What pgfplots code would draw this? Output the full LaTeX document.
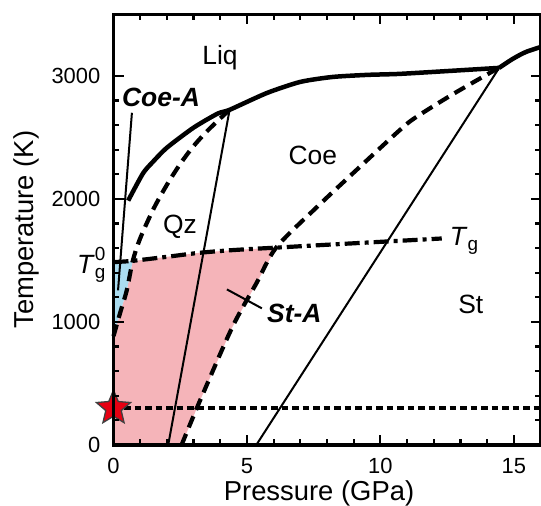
\documentclass[border=0pt]{standalone}
\usepackage{fontspec}
\setmainfont{Liberation Sans}
\usepackage{pgfplots}
\pgfplotsset{compat=1.18}
\usetikzlibrary{calc}
\definecolor{pinkfill}{RGB}{245,180,185}
\definecolor{bluefill}{RGB}{170,220,240}
\definecolor{starred}{RGB}{230,0,18}
\pgfdeclareplotmark{fstar}{%
  \pgfpathmoveto{\pgfpointpolar{90}{\pgfplotmarksize}}%
  \pgfpathlineto{\pgfpointpolar{126}{0.45\pgfplotmarksize}}%
  \pgfpathlineto{\pgfpointpolar{162}{\pgfplotmarksize}}%
  \pgfpathlineto{\pgfpointpolar{198}{0.45\pgfplotmarksize}}%
  \pgfpathlineto{\pgfpointpolar{234}{\pgfplotmarksize}}%
  \pgfpathlineto{\pgfpointpolar{270}{0.45\pgfplotmarksize}}%
  \pgfpathlineto{\pgfpointpolar{306}{\pgfplotmarksize}}%
  \pgfpathlineto{\pgfpointpolar{342}{0.45\pgfplotmarksize}}%
  \pgfpathlineto{\pgfpointpolar{18}{\pgfplotmarksize}}%
  \pgfpathlineto{\pgfpointpolar{54}{0.45\pgfplotmarksize}}%
  \pgfpathclose
  \pgfusepathqfillstroke}
\begin{document}
\begin{tikzpicture}
\begin{axis}[
  scale only axis, width=427bp, height=430.5bp,
  xmin=0, xmax=16, ymin=0, ymax=3500,
  xtick={0,5,10,15}, ytick={0,1000,2000,3000},
  minor x tick num=4, minor y tick num=4,
  tick align=inside,
  major tick length=10bp, minor tick length=5.5bp,
  every tick/.style={black, line width=2.2bp},
  axis line style={line width=3.4bp},
  /pgf/number format/assume math mode=true,
  /pgf/number format/1000 sep={},
  tick label style={font=\fontsize{22}{26}\selectfont},
  xticklabel style={inner sep=0pt, anchor=north, yshift=-13bp},
  yticklabel style={inner sep=0pt, anchor=east, xshift=-13bp},
  xlabel={Pressure (GPa)}, ylabel={Temperature (K)},
  label style={font=\fontsize{27.5}{32}\selectfont},
  xlabel style={at={(axis description cs:0.4813,-0.1278)}, anchor=base},
  ylabel style={at={(axis description cs:-0.1862,0.5)}, anchor=base},
  axis on top, set layers, clip=false,
]
% regions
\addplot[fill=pinkfill, draw=none] coordinates {
  (0,0) (2.55,0) (3.25,365) (4.45,957) (5.35,1313) (6.1,1605)
  (4.5,1585) (3.2,1562) (2,1530) (0.72,1495)
  (0.5,1260) (0.25,1075) (0,885) (0,0)} \closedcycle;
\addplot[fill=bluefill, draw=none] coordinates {
  (0,885) (0.25,1075) (0.5,1260) (0.72,1495) (0,1487) (0,885)} \closedcycle;
% melting curve
\addplot[line width=4.5bp, smooth, tension=0.4] coordinates {
  (0.55,1987) (1.1,2207) (1.45,2296) (2.0,2417) (3.0,2580) (3.9,2694) (4.35,2725)
  (5.75,2862) (7.0,2952) (8.2,2992) (9.5,3009) (10.7,3017) (12.5,3040) (14.45,3066)};
\addplot[line width=4.5bp, smooth, tension=0.5] coordinates {
  (14.45,3066) (14.96,3139) (15.45,3195) (16,3235)};
% Qz-Coe dashed
\addplot[line width=4.2bp, dash pattern=on 12bp off 7bp, smooth] coordinates {
  (0,885) (0.25,1075) (0.5,1260) (0.72,1495) (1.0,1680) (1.5,1920) (2.0,2115)
  (2.5,2285) (3.0,2430) (3.5,2550) (4.0,2655) (4.35,2725)};
% Coe-St dashed
\addplot[line width=4.2bp, dash pattern=on 12bp off 7bp, smooth] coordinates {
  (2.55,0) (3.25,365) (4.45,957) (5.35,1313) (6.1,1606) (7.6,1930) (9.2,2255)
  (10.7,2555) (11.3,2660) (12.7,2850) (14.1,3025) (14.45,3066)};
% thin solid phase boundaries
\addplot[line width=2bp] coordinates {(2.05,0) (4.35,2725)};
\addplot[line width=2bp] coordinates {(5.35,0) (14.45,3066)};
% Tg
\addplot[line width=4.2bp, dash pattern=on 15bp off 5bp on 4bp off 5bp, smooth] coordinates {
  (0,1487) (0.7,1497) (2,1530) (3.2,1562) (4.5,1585) (6.2,1606) (8,1628) (10.7,1660) (12.3,1679)};
% 300 K line
\addplot[line width=3.6bp, dash pattern=on 6.5bp off 4bp] coordinates {(0,300) (16,300)};
% pointers
\addplot[line width=2bp] coordinates {(0.69,2701) (0.17,1257)};
\addplot[line width=2bp] coordinates {(4.25,1265) (5.56,1111)};
% star
\addplot[only marks, mark=fstar, mark size=18bp, mark options={fill=starred, draw=black!75, line width=1.3bp}, on layer=axis foreground] coordinates {(0,300)};
% labels
\node[anchor=base, font=\fontsize{26.5}{30}\selectfont] at (axis cs:3.99,3090) {Liq};
\node[anchor=base, font=\fontsize{26.5}{30}\selectfont] at (axis cs:7.47,2279) {Coe};
\node[anchor=base, font=\fontsize{26.5}{30}\selectfont] at (axis cs:2.49,1719) {Qz};
\node[anchor=base, font=\fontsize{26.5}{30}\selectfont] at (axis cs:13.39,1070) {St};
\node[anchor=base, font=\fontsize{26.5}{30}\bfseries\itshape\selectfont] at (axis cs:1.78,2749) {Coe-A};
\node[anchor=base west, inner sep=0pt, font=\fontsize{26.5}{30}\bfseries\itshape\selectfont] at (axis cs:5.75,998) {St-A};
\node[anchor=base west, inner sep=0pt, font=\fontsize{26.5}{30}\selectfont] at (axis cs:12.6,1622) {\textit{T}\raisebox{-0.35ex}{\fontsize{19}{21}\selectfont g}};
\node[anchor=base east, inner sep=0pt, xshift=-8bp, font=\fontsize{26.5}{30}\selectfont] at (axis cs:0,1395) {\textit{T}\rlap{\raisebox{-0.35ex}{\fontsize{19}{21}\selectfont g}}\raisebox{0.9ex}{\fontsize{19}{21}\selectfont 0}};
\coordinate (bl) at (rel axis cs:0,0);
\coordinate (tr) at (rel axis cs:1,1);
\end{axis}
\pgfresetboundingbox
\path[use as bounding box] ($(bl)+(-113.5bp,-61bp)$) rectangle ($(tr)+(0.5bp,14.5bp)$);
\end{tikzpicture}
\end{document}
